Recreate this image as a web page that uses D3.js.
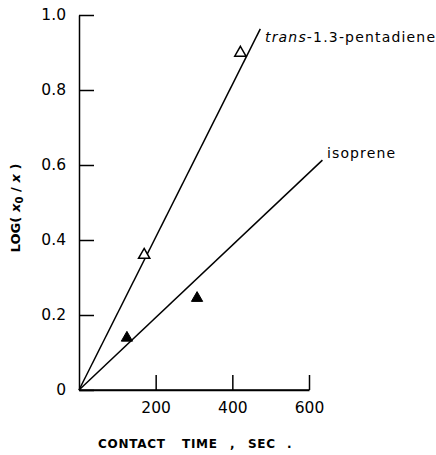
<!DOCTYPE html>
<html><head><meta charset="utf-8">
<script src="https://cdn.jsdelivr.net/npm/d3@7"></script>
<style>body{margin:0;background:#fff}svg{display:block}</style>
</head><body>
<script>
const xTicks = [200, 400, 600];
const yTicks = [0, 0.2, 0.4, 0.6, 0.8, 1.0];
const transPoints = [[170, 0.36], [421, 0.899]];
const isoprenePoints = [[125, 0.139], [308, 0.245]];
const transLine = [[0, 0], [473, 0.963]];
const isopreneLine = [[0, 0], [635, 0.613]];

const W = 436, H = 455;
const svg = d3.select("body").append("svg").attr("width", W).attr("height", H);
const x = d3.scaleLinear().domain([0, 600]).range([79, 309]);
const y = d3.scaleLinear().domain([0, 1]).range([390, 15]);
const font = "DejaVu Sans";

const yAxis = svg.append("g").attr("transform", `translate(${x(0)},0)`)
  .call(d3.axisLeft(y).tickValues(yTicks).tickSizeInner(-15).tickSizeOuter(0).tickPadding(13)
    .tickFormat(d => d === 0 ? "0" : d.toFixed(1)));
const xAxis = svg.append("g").attr("transform", `translate(0,${y(0)})`)
  .call(d3.axisBottom(x).tickValues(xTicks).tickSizeInner(-15).tickSizeOuter(0).tickPadding(12));
[yAxis, xAxis].forEach(g => {
  g.selectAll("path,line").attr("stroke", "#000").attr("stroke-width", 1.5);
  g.selectAll("text").attr("font-family", font).attr("font-size", 15.5).attr("fill", "#000");
});
svg.append("line").attr("x1", x(0)).attr("x2", x(600)).attr("y1", y(0)).attr("y2", y(0))
  .attr("stroke", "#000").attr("stroke-width", 1.5);

const line = d3.line().x(d => x(d[0])).y(d => y(d[1]));
[transLine, isopreneLine].forEach(l => {
  svg.append("path").attr("d", line(l)).attr("fill", "none").attr("stroke", "#000").attr("stroke-width", 1.5);
});

const tri = d3.symbol().type(d3.symbolTriangle).size(55);
svg.selectAll(".tp").data(transPoints).join("path")
  .attr("d", tri).attr("transform", d => `translate(${x(d[0])},${y(d[1])})`)
  .attr("fill", "#fff").attr("stroke", "#000").attr("stroke-width", 1.5);
svg.selectAll(".ip").data(isoprenePoints).join("path")
  .attr("d", tri).attr("transform", d => `translate(${x(d[0])},${y(d[1])})`)
  .attr("fill", "#000").attr("stroke", "#000").attr("stroke-width", 1);

const t1 = svg.append("text").attr("x", 265).attr("y", 42).attr("font-family", font).attr("font-size", 14)
  .attr("textLength", 170).attr("lengthAdjust", "spacing");
t1.append("tspan").attr("font-style", "italic").text("trans");
t1.append("tspan").text("-1.3-pentadiene");
svg.append("text").attr("x", 327).attr("y", 158).attr("font-family", font).attr("font-size", 14)
  .attr("textLength", 68).attr("lengthAdjust", "spacing").text("isoprene");

const xTitle = [["CONTACT", 98, 67], ["TIME", 182, 35], [",", 230, 4], ["SEC", 248, 27], [".", 287, 4]];
svg.selectAll(".xt").data(xTitle).join("text")
  .attr("x", d => d[1]).attr("y", 448).attr("font-family", font).attr("font-size", 12)
  .attr("font-weight", "bold").attr("textLength", d => d[0].length > 1 ? d[2] : null)
  .attr("lengthAdjust", "spacing").text(d => d[0]);

const yt = svg.append("text").attr("transform", "translate(20,208) rotate(-90)").attr("text-anchor", "middle")
  .attr("font-family", font).attr("font-size", 13).attr("font-weight", "bold")
  .attr("textLength", 89).attr("lengthAdjust", "spacing");
yt.append("tspan").text("LOG( ");
yt.append("tspan").attr("font-style", "italic").text("x");
yt.append("tspan").attr("font-size", 10).attr("dy", 3).text("0");
yt.append("tspan").attr("dy", -3).text(" / ");
yt.append("tspan").attr("font-style", "italic").text("x");
yt.append("tspan").text(" )");
</script>
</body></html>
